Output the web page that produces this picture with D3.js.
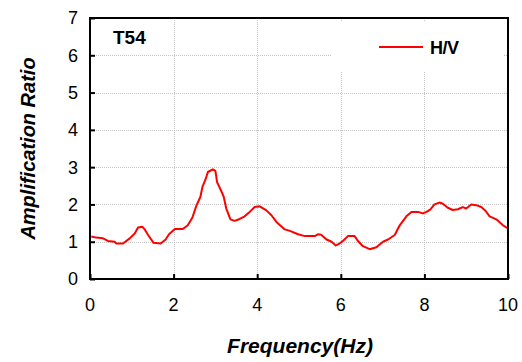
<!DOCTYPE html>
<html>
<head>
<meta charset="utf-8">
<script src="https://cdn.jsdelivr.net/npm/d3@7"></script>
<style>
  html, body { margin: 0; padding: 0; background: #fff; }
  svg { display: block; font-family: "Liberation Sans", Arial, sans-serif; }
</style>
</head>
<body>
<svg id="chart" width="522" height="362"></svg>
<script>
// H/V spectral ratio for station T54
const freq = [0.03, 0.15, 0.31, 0.43, 0.59, 0.63, 0.79, 0.95, 1.07, 1.15, 1.25, 1.31, 1.39, 1.52, 1.69, 1.81, 1.89,
  2.03, 2.22, 2.34, 2.45, 2.55, 2.64, 2.69, 2.77, 2.82, 2.89, 2.94, 3.0, 3.04, 3.14, 3.2, 3.26, 3.36, 3.46, 3.58,
  3.70, 3.82, 3.94, 4.06, 4.22, 4.34, 4.46, 4.66, 4.78, 4.98, 5.14, 5.38, 5.45, 5.53, 5.66, 5.78, 5.88, 5.97,
  6.05, 6.17, 6.33, 6.41, 6.53, 6.69, 6.85, 7.01, 7.13, 7.29, 7.41, 7.57, 7.69, 7.85, 7.96, 8.05, 8.14, 8.24,
  8.36, 8.44, 8.56, 8.68, 8.8, 8.92, 9.0, 9.12, 9.24, 9.36, 9.46, 9.56, 9.72, 9.88, 10.0];
const ratio = [1.14, 1.11, 1.09, 1.02, 1.0, 0.95, 0.95, 1.09, 1.22, 1.38, 1.40, 1.33, 1.18, 0.97, 0.95, 1.06, 1.20,
  1.34, 1.34, 1.44, 1.65, 1.98, 2.2, 2.47, 2.69, 2.87, 2.91, 2.94, 2.9, 2.6, 2.36, 2.2, 1.89, 1.6, 1.56, 1.61,
  1.68, 1.8, 1.93, 1.95, 1.84, 1.71, 1.53, 1.33, 1.29, 1.2, 1.15, 1.15, 1.2, 1.19, 1.06, 1.0, 0.9, 0.95,
  1.02, 1.15, 1.15, 1.02, 0.88, 0.80, 0.85, 1.0, 1.06, 1.18, 1.44, 1.68, 1.8, 1.8, 1.76, 1.8, 1.86, 2.0,
  2.05, 2.02, 1.91, 1.85, 1.87, 1.93, 1.89, 2.0, 1.98, 1.93, 1.83, 1.68, 1.6, 1.44, 1.36];

const xTicks = [0, 2, 4, 6, 8, 10];
const yTicks = [0, 1, 2, 3, 4, 5, 6, 7];
const stationLabel = "T54";
const seriesName = "H/V";

const svg = d3.select("#chart");
const plotL = 90, plotR = 508, plotT = 18, plotB = 279;

const x = d3.scaleLinear().domain([0, 10]).range([plotL, plotR]);
const y = d3.scaleLinear().domain([0, 7]).range([plotB, plotT]);

// dotted grid
const grid = svg.append("g").attr("stroke", "#c4c4c4").attr("stroke-width", 1).attr("stroke-dasharray", "1,1");
grid.selectAll("line.v").data(xTicks.slice(1, -1)).join("line")
  .attr("x1", d => Math.round(x(d)) + 0.5).attr("x2", d => Math.round(x(d)) + 0.5)
  .attr("y1", plotT).attr("y2", plotB);
grid.selectAll("line.h").data(yTicks.slice(1, -1)).join("line")
  .attr("x1", plotL).attr("x2", plotR)
  .attr("y1", d => Math.round(y(d)) + 0.5).attr("y2", d => Math.round(y(d)) + 0.5);

// legend backdrop hides the grid behind it
svg.append("rect").attr("x", 332).attr("y", 21).attr("width", 172).attr("height", 50).attr("fill", "#fff");

// data line
const line = d3.line().x((d, i) => x(freq[i])).y(d => y(d));
svg.append("path").datum(ratio)
  .attr("fill", "none").attr("stroke", "#ff0000").attr("stroke-width", 2)
  .attr("stroke-linejoin", "round").attr("d", line);

// frame
svg.append("rect").attr("x", plotL).attr("y", plotT).attr("width", plotR - plotL).attr("height", plotB - plotT)
  .attr("fill", "none").attr("stroke", "#000").attr("stroke-width", 2);

// axes with inward ticks
const yAxis = svg.append("g").attr("transform", `translate(${plotL},0)`)
  .call(d3.axisRight(y).tickValues(yTicks).tickSize(5).tickFormat(""));
yAxis.select(".domain").remove();
yAxis.selectAll("line").attr("stroke", "#000").attr("stroke-width", 2);

const xAxis = svg.append("g").attr("transform", `translate(0,${plotB})`)
  .call(d3.axisTop(x).tickValues(xTicks).tickSize(5).tickFormat(""));
xAxis.select(".domain").remove();
xAxis.selectAll("line").attr("stroke", "#000").attr("stroke-width", 2);

// tick labels
svg.append("g").selectAll("text").data(yTicks).join("text")
  .attr("x", plotL - 12).attr("y", d => y(d)).attr("dy", "0.36em")
  .attr("text-anchor", "end").attr("font-size", 18).attr("fill", "#000").text(d => d);
svg.append("g").selectAll("text").data(xTicks).join("text")
  .attr("x", d => x(d)).attr("y", plotB + 32)
  .attr("text-anchor", "middle").attr("font-size", 18).attr("fill", "#000").text(d => d);

// axis titles
svg.append("text").attr("x", x(5) + 1).attr("y", 353)
  .attr("text-anchor", "middle").attr("font-size", 21).attr("font-weight", "bold").attr("font-style", "italic")
  .text("Frequency(Hz)");
svg.append("text").attr("transform", `translate(35,${(plotT + plotB) / 2}) rotate(-90)`)
  .attr("text-anchor", "middle").attr("font-size", 20).attr("font-weight", "bold").attr("font-style", "italic")
  .text("Amplification Ratio");

// station label
svg.append("text").attr("x", 113).attr("y", 44).attr("font-size", 19).attr("font-weight", "bold").text(stationLabel);

// legend
svg.append("line").attr("x1", 379).attr("x2", 423).attr("y1", 47).attr("y2", 47)
  .attr("stroke", "#ff0000").attr("stroke-width", 2);
svg.append("text").attr("x", 430).attr("y", 54).attr("font-size", 18).attr("font-weight", "bold")
  .attr("letter-spacing", -0.5).text(seriesName);
</script>
</body>
</html>
